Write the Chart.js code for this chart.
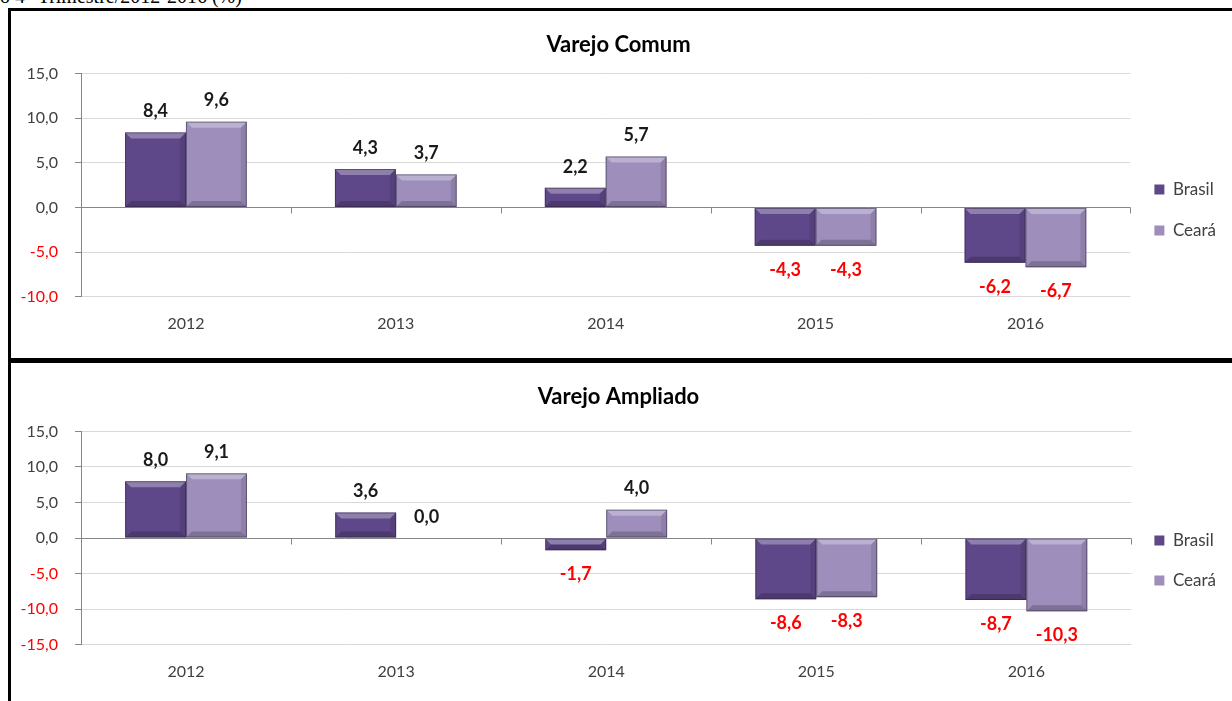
<!DOCTYPE html>
<html>
<head>
<meta charset="utf-8">
<script src="https://cdn.jsdelivr.net/npm/chart.js@4"></script>
<style>
  body { margin: 0; width: 1232px; height: 701px; overflow: hidden; background: #fff; position: relative; }
  #legenda { position: absolute; left: 0; top: -15px; font: 20px "Liberation Serif", serif; color: #000; white-space: nowrap; }
  .caixa { position: absolute; left: 8px; width: 1240px; border-left: 3px solid #000; background: #fff; }
  #caixa1 { top: 8px; height: 350px; border-top: 3px solid #000; }
  #sep { position: absolute; left: 8px; top: 358px; width: 1240px; height: 5px; background: #000; }
  #caixa2 { top: 363px; height: 338px; }
  canvas { position: absolute; left: 0; top: 0; }
</style>
</head>
<body>
<div id="legenda">o 4° Trimestre/2012-2016 (%)</div>
<div class="caixa" id="caixa1"><canvas id="grafico1" width="1221" height="347"></canvas></div>
<div id="sep"></div>
<div class="caixa" id="caixa2"><canvas id="grafico2" width="1221" height="338"></canvas></div>
<script>
// Dados
const anos = ["2012", "2013", "2014", "2015", "2016"];
const comumBrasil = [8.4, 4.3, 2.2, -4.3, -6.2];
const comumCeara = [9.6, 3.7, 5.7, -4.3, -6.7];
const ampliadoBrasil = [8.0, 3.6, -1.7, -8.6, -8.7];
const ampliadoCeara = [9.1, 0.0, 4.0, -8.3, -10.3];

const corBrasil = "#5f4889";
const corCeara = "#9d8ebb";
const fonte = "Lato, 'Open Sans', sans-serif";

function formata(v) {
    return v.toFixed(1).replace(".", ",");
}

// marcas do eixo das categorias sobre a linha do zero
const marcasZero = {
    id: "marcasZero",
    beforeDatasetsDraw(chart) {
        const ctx = chart.ctx, x = chart.scales.x, y = chart.scales.y;
        const y0 = Math.round(y.getPixelForValue(0)) + 0.5;
        ctx.save();
        ctx.strokeStyle = "#868686";
        ctx.lineWidth = 1;
        for (let i = 0; i < anos.length; i++) {
            const px = Math.round(x.getPixelForValue(i) + (x.getPixelForValue(1) - x.getPixelForValue(0)) / 2) + 0.5;
            ctx.beginPath();
            ctx.moveTo(px, y0);
            ctx.lineTo(px, y0 + 6);
            ctx.stroke();
        }
        ctx.restore();
    }
};

// efeito de bisel nas barras
const bisel = {
    id: "bisel",
    afterDatasetsDraw(chart) {
        const ctx = chart.ctx;
        chart.data.datasets.forEach((ds, i) => {
            chart.getDatasetMeta(i).data.forEach((bar) => {
                const l = bar.x - bar.width / 2, r = bar.x + bar.width / 2;
                const t = Math.min(bar.y, bar.base), b = Math.max(bar.y, bar.base);
                const h = b - t;
                if (h < 1) return;
                const e = Math.min(6, h / 2);
                ctx.save();
                ctx.fillStyle = "rgba(255,255,255,0.3)";
                ctx.beginPath();
                ctx.moveTo(l, t); ctx.lineTo(r, t); ctx.lineTo(r - e, t + e); ctx.lineTo(l + e, t + e);
                ctx.fill();
                ctx.fillStyle = "rgba(0,0,0,0.2)";
                ctx.beginPath();
                ctx.moveTo(l, b); ctx.lineTo(r, b); ctx.lineTo(r - e, b - e); ctx.lineTo(l + e, b - e);
                ctx.fill();
                ctx.fillStyle = "rgba(0,0,0,0.1)";
                ctx.beginPath();
                ctx.moveTo(r, t); ctx.lineTo(r, b); ctx.lineTo(r - e, b - e); ctx.lineTo(r - e, t + e);
                ctx.fill();
                ctx.strokeStyle = "rgba(40,30,60,0.5)";
                ctx.lineWidth = 1;
                ctx.strokeRect(l + 0.5, t + 0.5, r - l - 1, h - 1);
                ctx.restore();
            });
        });
    }
};

// rótulos de dados
const rotulos = {
    id: "rotulos",
    afterDatasetsDraw(chart) {
        const ctx = chart.ctx;
        ctx.save();
        ctx.font = "bold 18px " + fonte;
        ctx.textAlign = "center";
        ctx.textBaseline = "middle";
        chart.data.datasets.forEach((ds, i) => {
            chart.getDatasetMeta(i).data.forEach((bar, j) => {
                const v = ds.data[j];
                const t = Math.min(bar.y, bar.base), b = Math.max(bar.y, bar.base);
                if (v >= 0) {
                    ctx.fillStyle = "#1a1a1a";
                    ctx.fillText(formata(v), bar.x, t - 21);
                } else {
                    ctx.fillStyle = "#ff0000";
                    ctx.fillText(formata(v), bar.x, b + 24);
                }
            });
        });
        ctx.restore();
    }
};

function criaGrafico(id, titulo, brasil, ceara, min, max, padTitulo, padInferior, desvioLegenda, espacoLegenda) {
    const ctx = document.getElementById(id).getContext("2d");
    return new Chart(ctx, {
        type: "bar",
        data: {
            labels: anos,
            datasets: [
                { label: "Brasil", data: brasil, backgroundColor: corBrasil },
                { label: "Ceará", data: ceara, backgroundColor: corCeara }
            ]
        },
        options: {
            responsive: false,
            devicePixelRatio: 1,
            animation: false,
            categoryPercentage: 0.58,
            barPercentage: 1,
            layout: { padding: { left: 0, right: 6, bottom: padInferior } },
            plugins: {
                title: {
                    display: true,
                    text: titulo,
                    color: "#000",
                    font: { family: fonte, size: 22, weight: "bold" },
                    padding: padTitulo
                },
                legend: {
                    position: "right",
                    title: { display: true, text: " ", font: { size: 10 }, padding: { top: desvioLegenda - 12, bottom: 0 } },
                    labels: {
                        boxWidth: 10,
                        boxHeight: 10,
                        padding: espacoLegenda,
                        color: "#404040",
                        font: { family: fonte, size: 17 }
                    }
                },
                tooltip: { enabled: false }
            },
            scales: {
                x: {
                    grid: { display: false, drawTicks: false },
                    border: { display: false },
                    ticks: { color: "#404040", padding: 17, font: { family: fonte, size: 16 } }
                },
                y: {
                    min: min,
                    max: max,
                    afterFit: (s) => { s.width = 70; },
                    grid: {
                        color: (c) => c.tick && c.tick.value === 0 ? "#868686" : "#d9d9d9",
                        tickColor: "#868686",
                        tickLength: 6
                    },
                    border: { color: "#868686" },
                    ticks: {
                        stepSize: 5,
                        padding: 17,
                        color: (c) => c.tick.value < 0 ? "#ff0000" : "#404040",
                        font: { family: fonte, size: 16 },
                        callback: (v) => formata(v)
                    }
                }
            }
        },
        plugins: [marcasZero, bisel, rotulos]
    });
}

criaGrafico("grafico1", "Varejo Comum", comumBrasil, comumCeara, -10, 15, { top: 21, bottom: 15 }, 8, 59, 24);
criaGrafico("grafico2", "Varejo Ampliado", ampliadoBrasil, ampliadoCeara, -15, 15, { top: 21, bottom: 21 }, 3, 60, 23);
</script>
</body>
</html>
